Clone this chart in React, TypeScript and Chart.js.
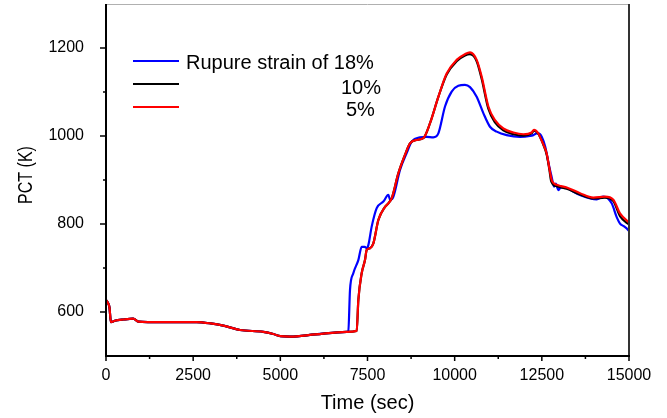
import React, { useEffect, useRef } from "react";
import { Chart, registerables } from "chart.js";

Chart.register(...registerables);

// ---- Data ----
const legendLabels = ["Rupure strain of 18%", "10%", "5%"];
const seriesColors = ["#0000ff", "#000000", "#ff0000"];

const xMajorTicks = [0, 2500, 5000, 7500, 10000, 12500, 15000];
const xMinorTicks = [1250, 3750, 6250, 8750, 11250, 13750];
const yMajorTicks = [600, 800, 1000, 1200];
const yMinorTicks = [700, 900, 1100];

// 5% series (red)
const t5 = [0, 60, 100, 140, 250, 500, 780, 930, 1200, 2600, 3000, 3366, 3843, 4512, 4800, 5000, 5277, 6000, 6903, 7190,
  7237, 7333, 7428, 7477, 7572, 7668, 7811, 8002, 8099, 8193, 8384, 8575, 8719, 8910, 9101, 9293, 9532, 9771, 10057, 10296,
  10440, 10631, 10774, 10966, 11157, 11396, 11683, 11970, 12208, 12275, 12400, 12447, 12550, 12639, 12720, 12782, 12850, 12925,
  13050, 13212, 13595, 13977, 14312, 14551, 14742, 14981, 15000];
const v5 = [627, 620, 610, 577, 580, 583, 585, 578, 577, 577, 574, 569, 559, 555, 550, 545, 544, 549, 555, 557,
  627, 688, 718, 741, 745, 756, 809, 839, 847, 858, 915, 957, 983, 991, 995, 1029, 1089, 1142, 1173, 1186,
  1190, 1173, 1135, 1067, 1036, 1017, 1008, 1004, 1008, 1014, 1006, 998, 980, 960, 925, 900, 892, 889,
  886, 883, 870, 860, 862, 855, 824, 805, 804];

// 10% series (black)
const t10 = [0, 60, 100, 140, 250, 500, 780, 930, 1200, 2600, 3000, 3366, 3843, 4512, 4800, 5000, 5277, 6000, 6903, 7190,
  7237, 7333, 7428, 7477, 7572, 7668, 7811, 8002, 8099, 8193, 8384, 8575, 8719, 8910, 9101, 9293, 9532, 9771, 10057, 10296,
  10440, 10631, 10774, 10966, 11157, 11396, 11683, 11970, 12208, 12275, 12400, 12447, 12550, 12639, 12720, 12760, 12782, 12850, 12925,
  13050, 13212, 13595, 13977, 14312, 14551, 14742, 14981, 15000];
const v10 = [627, 620, 610, 577, 580, 583, 585, 578, 577, 577, 574, 569, 559, 555, 550, 545, 544, 549, 555, 557,
  627, 688, 718, 741, 745, 756, 809, 839, 847, 858, 915, 957, 983, 991, 995, 1029, 1089, 1140, 1170, 1183,
  1186, 1170, 1130, 1062, 1031, 1013, 1004, 1001, 1006, 1012, 1005, 998, 979, 958, 922, 900, 895, 888, 886,
  883, 880, 867, 858, 860, 852, 818, 800, 799];

// 18% series (blue)
const t18 = [0, 60, 100, 140, 250, 500, 780, 930, 1200, 2600, 3000, 3366, 3843, 4512, 4800, 5000, 5277, 6000, 6903, 6950,
  6998, 7093, 7237, 7333, 7420, 7477, 7524, 7620, 7764, 7955, 8099, 8146, 8241, 8432, 8623, 8767, 9006, 9197, 9388, 9532,
  9723, 9914, 10105, 10296, 10440, 10631, 10822, 11013, 11205, 11492, 11874, 12160, 12256, 12352, 12400, 12500, 12600, 12700,
  12782, 12850, 12900, 12973, 13050, 13164, 13595, 14073, 14264, 14503, 14650, 14742, 14850, 14981, 15000];
const v18 = [627, 620, 610, 577, 580, 583, 585, 578, 577, 577, 574, 569, 559, 555, 550, 545, 544, 549, 555, 556,
  650, 688, 718, 748, 748, 745, 752, 794, 836, 851, 866, 855, 862, 923, 961, 987, 997, 998, 997, 1006,
  1067, 1101, 1114, 1116, 1111, 1089, 1052, 1021, 1010, 1002, 998, 1000, 1002, 1006, 1006, 998, 975, 935,
  907, 885, 892, 877, 884, 883, 866, 856, 862, 847, 815, 801, 795, 786, 784];

const FONT = "'Liberation Sans', Arial, sans-serif";

const toPoints = (t: number[], v: number[]) => t.map((x, i) => ({ x, y: v[i] }));

const framePlugin = {
  id: "frameAndLegend",
  afterDraw(chart: any) {
    const ctx = chart.ctx as CanvasRenderingContext2D;
    const { left, right, top, bottom } = chart.chartArea;
    const xs = chart.scales.x;
    const ys = chart.scales.y;
    ctx.save();
    // top border
    ctx.strokeStyle = "#b0b0b0";
    ctx.lineWidth = 1;
    ctx.beginPath();
    ctx.moveTo(left, top + 0.5);
    ctx.lineTo(right, top + 0.5);
    ctx.stroke();
    // right border
    ctx.strokeStyle = "#333333";
    ctx.lineWidth = 2;
    ctx.beginPath();
    ctx.moveTo(right, top);
    ctx.lineTo(right, bottom);
    ctx.stroke();
    // left + bottom axes
    ctx.strokeStyle = "#000000";
    ctx.lineWidth = 2;
    ctx.beginPath();
    ctx.moveTo(left, top);
    ctx.lineTo(left, bottom + 1);
    ctx.moveTo(left - 1, bottom);
    ctx.lineTo(right + 1, bottom);
    ctx.stroke();
    // ticks
    ctx.lineWidth = 1.5;
    ctx.beginPath();
    xMajorTicks.forEach((v) => {
      const px = xs.getPixelForValue(v);
      ctx.moveTo(px, bottom);
      ctx.lineTo(px, bottom + 5);
    });
    xMinorTicks.forEach((v) => {
      const px = xs.getPixelForValue(v);
      ctx.moveTo(px, bottom);
      ctx.lineTo(px, bottom + 3);
    });
    yMajorTicks.forEach((v) => {
      const py = ys.getPixelForValue(v);
      ctx.moveTo(left, py);
      ctx.lineTo(left - 6, py);
    });
    yMinorTicks.forEach((v) => {
      const py = ys.getPixelForValue(v);
      ctx.moveTo(left, py);
      ctx.lineTo(left - 3, py);
    });
    ctx.stroke();

    // legend
    const rows = [
      { y: 61, textX: 186, textY: 69 },
      { y: 84, textX: 341, textY: 94 },
      { y: 107, textX: 346, textY: 115.5 },
    ];
    ctx.font = `20px ${FONT}`;
    ctx.fillStyle = "#000";
    ctx.textBaseline = "alphabetic";
    ctx.textAlign = "left";
    rows.forEach((r, i) => {
      ctx.strokeStyle = seriesColors[i];
      ctx.lineWidth = 2;
      ctx.beginPath();
      ctx.moveTo(133, r.y);
      ctx.lineTo(179, r.y);
      ctx.stroke();
      ctx.fillText(legendLabels[i], r.textX, r.textY);
    });

    // y axis title (compressed along its length, as in the reference)
    ctx.save();
    ctx.translate(31.5, (top + bottom) / 2 - 5);
    ctx.rotate(-Math.PI / 2);
    ctx.scale(0.8, 1);
    ctx.textAlign = "center";
    ctx.textBaseline = "alphabetic";
    ctx.font = `20px ${FONT}`;
    ctx.fillText("PCT (K)", 0, 0);
    ctx.restore();

    ctx.restore();
  },
};

export default function App() {
  const ref = useRef<HTMLCanvasElement | null>(null);

  useEffect(() => {
    if (!ref.current) return;
    const common = { borderWidth: 2.2, pointRadius: 0, fill: false, cubicInterpolationMode: "monotone" };
    const chart = new Chart(ref.current, {
      type: "line",
      data: {
        datasets: [
          { ...common, label: legendLabels[2], data: toPoints(t5, v5), borderColor: seriesColors[2], backgroundColor: seriesColors[2] },
          { ...common, label: legendLabels[1], data: toPoints(t10, v10), borderColor: seriesColors[1], backgroundColor: seriesColors[1] },
          { ...common, label: legendLabels[0], data: toPoints(t18, v18), borderColor: seriesColors[0], backgroundColor: seriesColors[0] },
        ],
      },
      options: {
        responsive: false,
        animation: false,
        layout: { padding: { top: 4, right: 38, bottom: 0, left: 0 } },
        plugins: { legend: { display: false }, tooltip: { enabled: false } },
        scales: {
          x: {
            type: "linear",
            min: 0,
            max: 15000,
            afterBuildTicks: (s: any) => { s.ticks = xMajorTicks.map((value) => ({ value })); },
            afterFit: (s: any) => { s.height = 62; s.paddingLeft = 0; s.paddingRight = 0; },
            grid: { display: false },
            border: { display: false },
            ticks: { autoSkip: false, maxRotation: 0, padding: 2, color: "#000", font: { family: FONT, size: 16 }, callback: (v: any) => String(v) },
            title: { display: true, text: "Time (sec)", color: "#000", font: { family: FONT, size: 20 }, padding: { top: 0, bottom: 3 } },
          },
          y: {
            type: "linear",
            min: 500,
            max: 1300,
            afterBuildTicks: (s: any) => { s.ticks = yMajorTicks.map((value) => ({ value })); },
            afterFit: (s: any) => { s.width = 106; s.paddingTop = 0; s.paddingBottom = 0; },
            grid: { display: false },
            border: { display: false },
            ticks: { padding: 14, color: "#000", font: { family: FONT, size: 16 }, callback: (v: any) => String(v) },
          },
        },
      },
      plugins: [framePlugin],
    } as any);
    return () => chart.destroy();
  }, []);

  return (
    <div style={{ position: "fixed", left: 0, top: 0, width: 667, height: 418, background: "#fff" }}>
      <canvas ref={ref} width={667} height={418} style={{ display: "block" }} />
    </div>
  );
}
